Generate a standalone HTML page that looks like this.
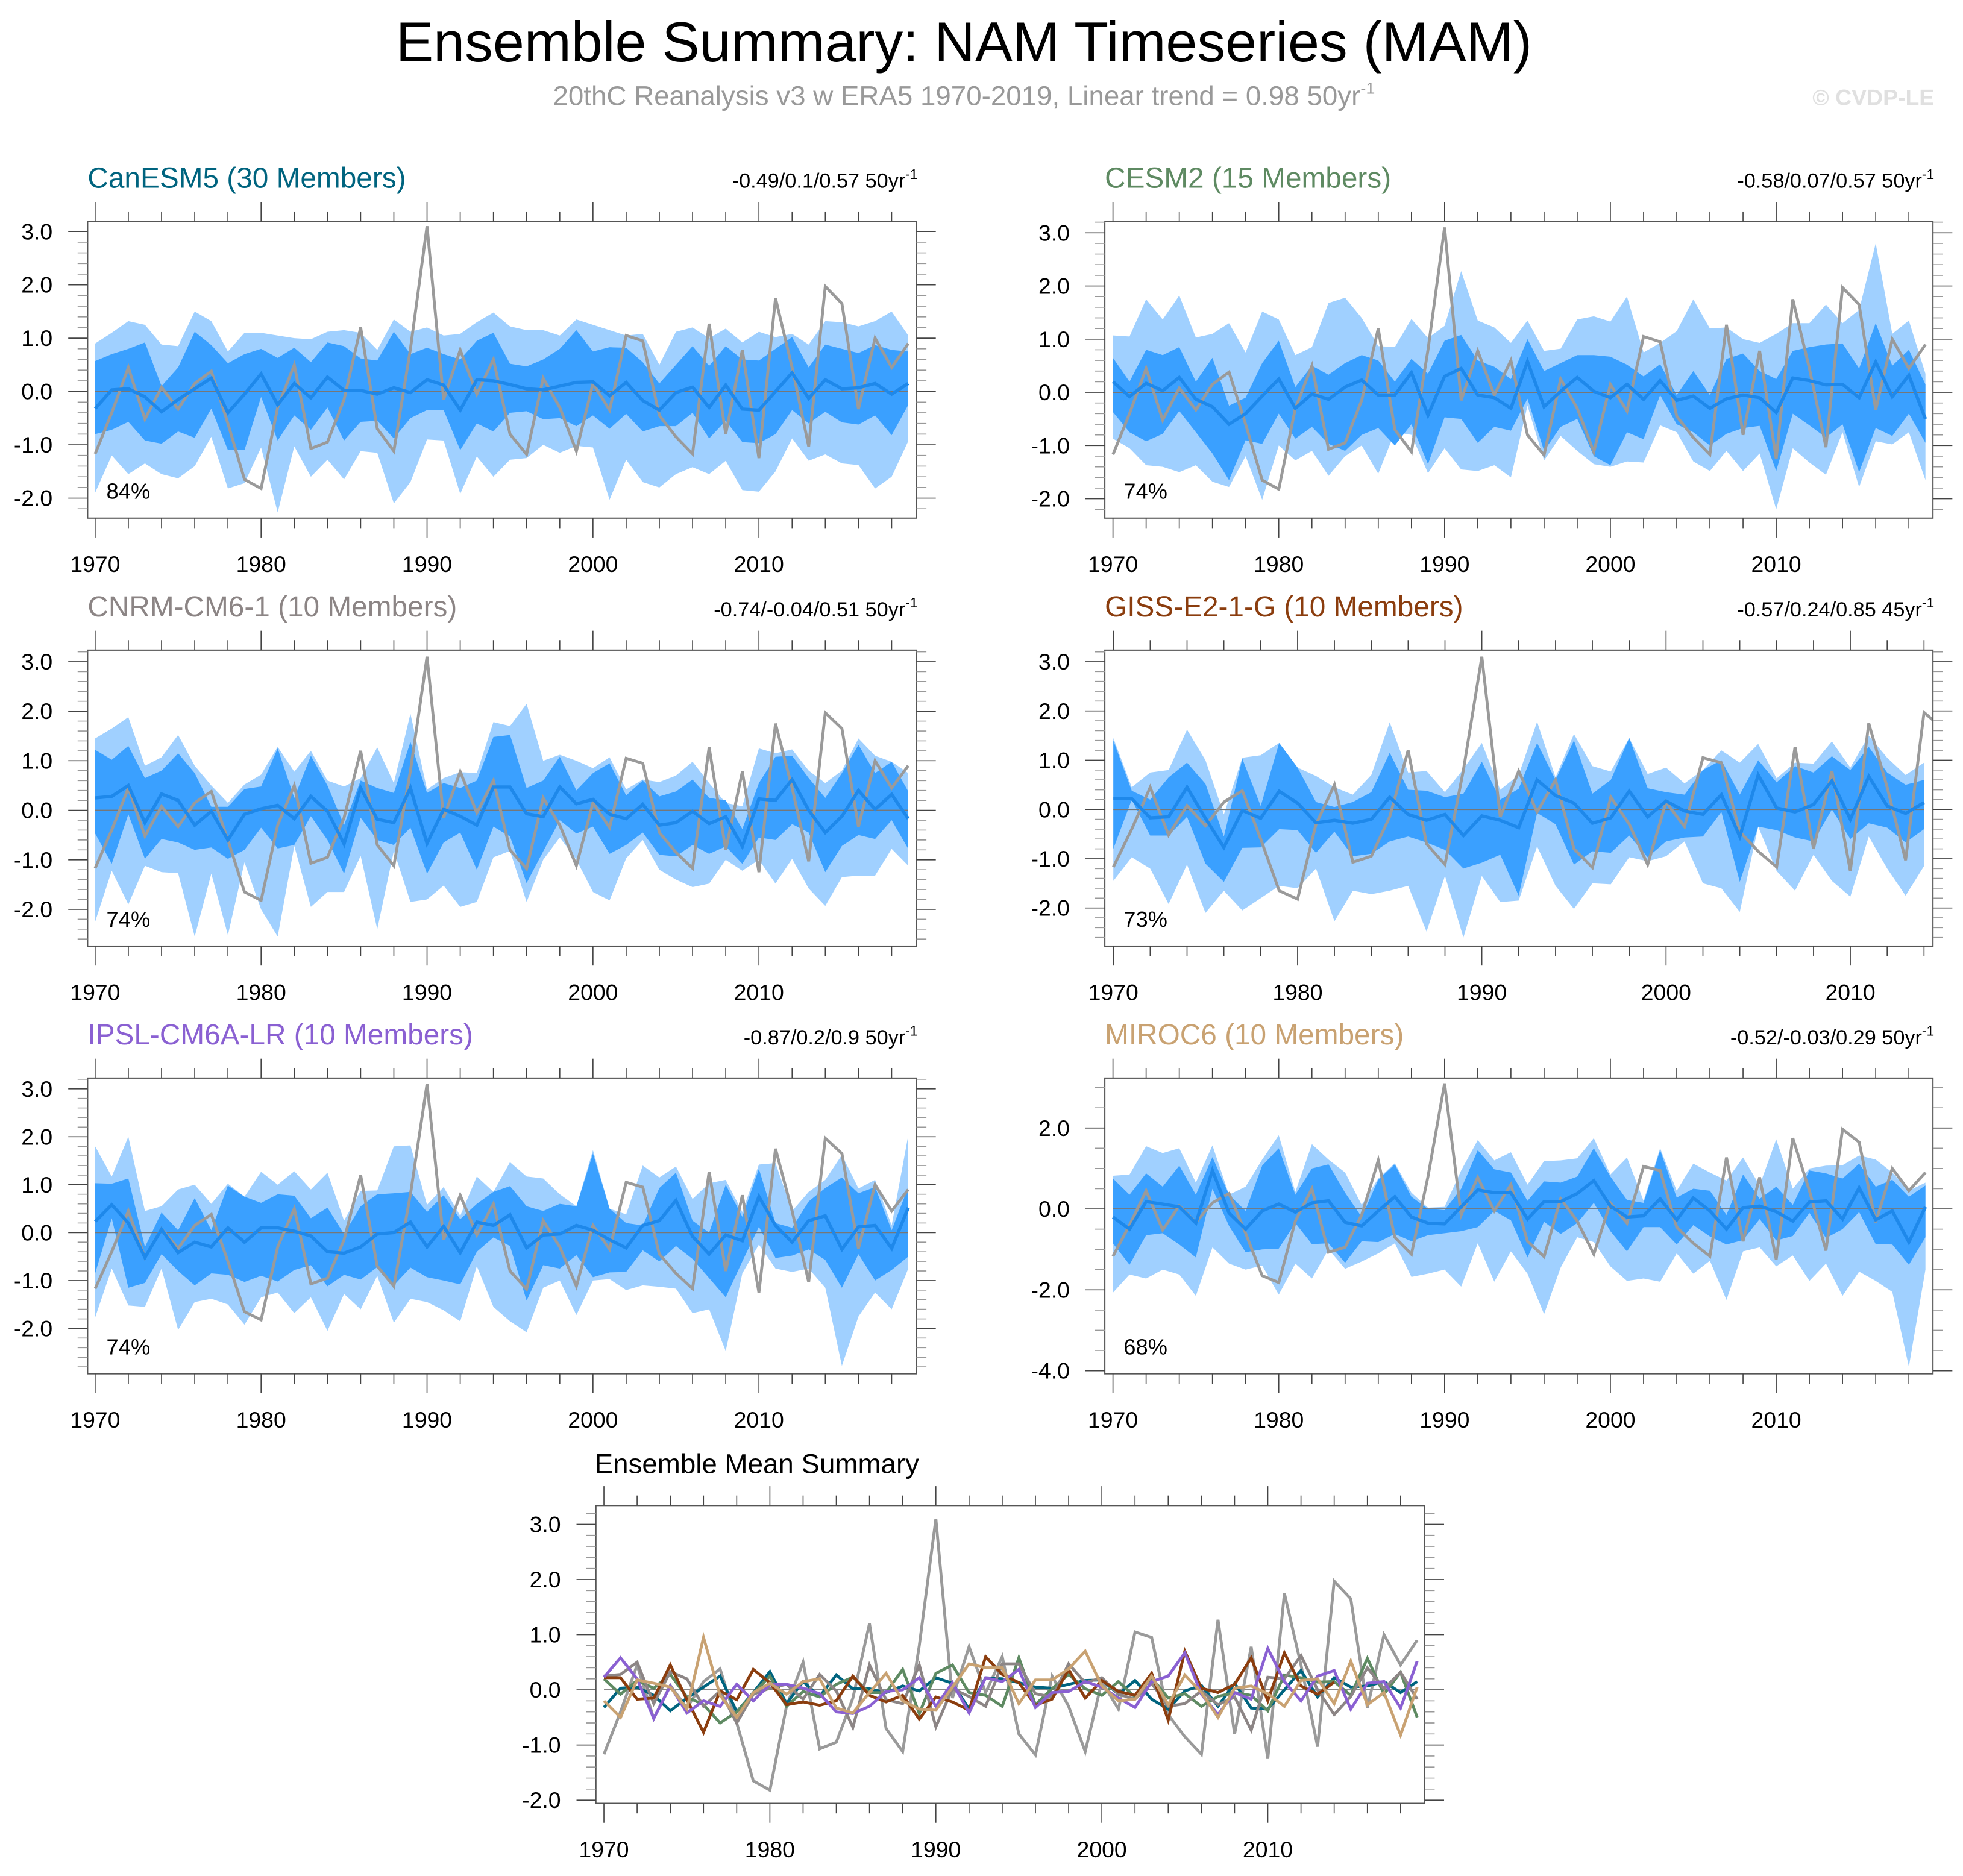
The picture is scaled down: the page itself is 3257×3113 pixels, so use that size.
<!DOCTYPE html>
<html><head><meta charset="utf-8"><style>
html,body{margin:0;padding:0;background:#fff;}
svg{display:block;}
text{font-family:"Liberation Sans",Arial,sans-serif;}
</style></head><body>
<svg id="fig" xmlns="http://www.w3.org/2000/svg" width="3257" height="3113" viewBox="0 0 1568 1499" preserveAspectRatio="none">
<rect x="0" y="0" width="1568" height="1499" fill="#fff"/>
<text x="770" y="49" font-size="45" text-anchor="middle" fill="#000">Ensemble Summary: NAM Timeseries (MAM)</text>
<text x="770" y="84" font-size="22" text-anchor="middle" fill="#999">20thC Reanalysis v3 w ERA5 1970-2019, Linear trend = 0.98 50yr<tspan font-size="13" dy="-9">-1</tspan></text>
<text x="1545" y="84" font-size="18" font-weight="bold" text-anchor="end" fill="#e0e0e0">© CVDP-LE</text>
<g id="panels"></g>
</svg>
<script>
const years = [];
for (let y = 1970; y <= 2019; y++) years.push(y);
const gissYears = years.slice(0, 45);
const xTickLabels = ["1970","1980","1990","2000","2010"];

const obs = [-1.17,-0.4,0.45,-0.52,0.08,-0.33,0.15,0.38,-0.6,-1.65,-1.82,-0.3,0.5,-1.07,-0.95,-0.15,1.2,-0.7,-1.12,0.8,3.1,-0.15,0.78,-0.05,0.6,-0.8,-1.18,0.25,-0.3,-1.12,0.15,-0.35,1.05,0.95,-0.45,-0.85,-1.17,1.27,-0.8,0.78,-1.25,1.75,0.45,-1.03,1.97,1.65,-0.33,1.0,0.45,0.9];

const canesm5_mean = [-0.32,0.03,0.05,-0.1,-0.38,-0.15,0.05,0.25,-0.4,-0.05,0.33,-0.25,0.15,-0.12,0.27,0.02,0.02,-0.05,0.07,-0.02,0.22,0.12,-0.35,0.22,0.2,0.13,0.05,0.03,0.1,0.17,0.18,-0.08,0.17,-0.17,-0.35,-0.02,0.08,-0.3,0.12,-0.33,-0.35,0.0,0.35,-0.13,0.22,0.05,0.07,0.15,-0.05,0.15];
const canesm5_p75 = [0.57,0.7,0.8,0.92,0.1,0.45,1.12,0.87,0.53,0.7,0.8,0.63,0.82,0.55,0.92,0.85,0.62,0.58,1.12,0.7,0.82,0.7,0.6,0.95,1.1,0.52,0.47,0.6,0.8,1.15,0.75,0.83,0.82,0.55,0.15,0.5,0.85,0.48,0.85,0.6,0.58,0.8,1.02,0.45,0.88,0.8,0.72,0.87,0.78,0.75];
const canesm5_p25 = [-0.8,-0.72,-0.57,-0.92,-0.98,-0.75,-0.87,-0.32,-1.1,-1.1,-0.1,-0.92,-0.45,-0.72,-0.3,-0.92,-0.57,-0.55,-0.88,-0.5,-0.35,-0.35,-1.1,-0.6,-0.75,-0.4,-0.37,-0.52,-0.5,-0.65,-0.45,-0.7,-0.42,-0.75,-0.65,-0.65,-0.4,-0.88,-0.55,-0.95,-0.97,-0.8,-0.35,-0.6,-0.38,-0.58,-0.62,-0.45,-0.82,-0.25];
const canesm5_max = [0.9,1.1,1.32,1.25,0.88,0.85,1.5,1.32,0.75,1.1,1.1,1.05,1.0,0.98,1.12,1.15,1.1,0.78,1.35,1.12,1.2,1.05,1.08,1.3,1.48,1.22,1.15,1.15,1.05,1.35,1.25,1.15,1.05,1.08,0.5,1.12,1.2,1.0,1.18,0.92,1.12,1.02,1.08,0.88,1.32,1.3,1.22,1.32,1.5,1.05];
const canesm5_min = [-1.9,-1.2,-1.55,-1.35,-1.55,-1.63,-1.4,-0.85,-1.82,-1.72,-1.05,-2.27,-1.03,-1.6,-1.28,-1.65,-1.12,-1.15,-2.1,-1.7,-0.9,-0.92,-1.92,-1.22,-1.6,-1.28,-1.25,-1.0,-1.15,-1.02,-1.05,-2.03,-1.28,-1.7,-1.8,-1.55,-1.42,-1.55,-1.3,-1.85,-1.88,-1.5,-0.88,-1.3,-1.18,-1.35,-1.38,-1.82,-1.6,-0.93];

const cesm2_mean = [0.2,-0.08,0.17,0.03,0.28,-0.13,-0.27,-0.6,-0.4,-0.07,0.25,-0.3,-0.03,-0.13,0.1,0.23,-0.05,-0.05,0.37,-0.43,0.3,0.45,-0.05,-0.1,-0.3,0.58,-0.27,0.02,0.28,0.02,-0.1,0.15,-0.13,0.22,-0.15,-0.07,-0.3,-0.12,-0.05,-0.1,-0.38,0.27,0.22,0.14,0.15,-0.1,0.57,-0.08,0.32,-0.5];
const cesm2_p75 = [0.65,0.2,0.8,0.7,0.85,0.2,0.65,-0.25,-0.1,0.55,0.97,0.1,0.5,0.33,0.55,0.7,0.6,0.2,0.63,0.35,0.97,1.08,0.6,0.48,0.25,1.0,0.4,0.55,0.7,0.7,0.67,0.52,0.3,0.53,-0.05,0.4,-0.05,0.63,0.73,0.4,0.25,0.78,0.85,0.9,0.92,0.45,1.3,0.5,0.8,0.15];
const cesm2_p25 = [-0.37,-0.75,-0.92,-0.78,-0.35,-0.75,-1.15,-1.65,-0.9,-0.97,-0.4,-0.87,-0.65,-0.97,-1.1,-0.8,-0.67,-1.0,-0.6,-1.35,-0.47,-0.5,-0.95,-0.65,-0.72,-0.12,-1.1,-0.65,-0.5,-1.2,-1.37,-0.75,-0.88,-0.05,-0.6,-0.75,-1.0,-0.78,-0.67,-0.63,-1.48,-0.4,-0.62,-0.85,-0.6,-1.5,-0.67,-0.82,-0.4,-0.95];
const cesm2_max = [1.07,1.05,1.75,1.37,1.82,1.03,1.1,1.3,0.75,1.52,1.37,0.7,0.85,1.68,1.78,1.4,0.87,0.85,1.38,1.02,1.25,2.28,1.35,1.22,0.93,1.35,0.78,0.82,1.37,1.43,1.33,1.8,0.75,0.93,1.15,1.75,1.2,1.22,1.0,0.93,1.1,1.3,1.3,1.65,1.3,1.55,2.8,1.1,1.35,0.35];
const cesm2_min = [-0.87,-1.05,-1.37,-1.4,-1.5,-1.37,-1.68,-1.78,-1.2,-2.02,-1.0,-1.28,-1.1,-1.57,-1.2,-1.0,-1.53,-0.75,-0.8,-1.52,-1.05,-1.45,-1.48,-1.37,-1.6,-0.25,-1.28,-0.82,-1.1,-1.35,-1.4,-1.3,-1.32,-0.62,-0.75,-1.3,-1.48,-1.1,-1.48,-1.15,-2.2,-1.05,-1.32,-1.55,-0.75,-1.78,-0.92,-0.98,-0.75,-1.65];

const cnrm_mean = [0.25,0.28,0.5,-0.25,0.33,0.2,-0.3,-0.02,-0.6,-0.08,0.03,0.1,-0.17,0.28,-0.02,-0.68,0.45,-0.18,-0.25,0.45,-0.67,0.02,-0.12,-0.3,0.47,0.47,-0.07,-0.13,0.47,0.13,0.22,-0.08,-0.17,0.12,-0.3,-0.25,-0.02,-0.27,-0.13,-0.73,0.23,0.2,0.62,0.0,-0.45,-0.12,0.4,0.02,0.32,-0.17];
const cnrm_p75 = [1.22,1.02,1.3,0.65,0.8,1.15,0.75,0.07,0.07,0.43,0.48,1.25,0.25,1.1,0.5,-0.3,0.6,0.45,0.35,1.38,0.35,0.55,0.45,0.6,1.48,1.52,0.45,0.6,1.08,0.4,0.75,0.95,0.3,0.6,0.28,0.38,0.62,0.25,0.2,-0.38,0.55,1.08,1.1,0.65,0.25,0.75,1.32,0.75,0.98,0.38];
const cnrm_p25 = [-0.47,-1.08,-0.08,-0.98,-0.58,-0.65,-0.8,-0.75,-0.98,-0.8,-0.35,-0.77,-0.7,-0.12,-0.6,-1.28,-0.15,-0.6,-0.7,-0.35,-1.28,-0.65,-0.45,-1.2,-0.33,-0.53,-1.47,-0.83,-0.2,-0.47,-0.33,-0.88,-0.7,-0.45,-0.9,-0.93,-0.7,-0.88,-0.73,-1.08,-0.55,-0.6,-0.28,-0.45,-1.25,-0.72,-0.5,-0.58,-0.2,-0.78];
const cnrm_max = [1.45,1.65,1.88,0.9,1.07,1.52,0.9,0.5,0.15,0.52,0.72,1.28,0.78,1.2,0.6,0.48,0.65,1.27,0.55,1.95,0.42,0.65,0.77,0.75,1.78,1.7,2.15,1.0,1.12,1.0,0.85,1.07,0.42,0.62,0.57,0.7,0.98,0.55,0.15,0.08,1.25,1.15,1.23,0.8,0.55,0.8,1.45,1.1,0.98,0.75];
const cnrm_min = [-2.25,-1.22,-1.9,-1.12,-1.25,-1.27,-2.55,-1.28,-2.52,-1.05,-2.0,-2.55,-0.72,-1.95,-1.65,-1.65,-0.92,-2.4,-0.82,-1.85,-1.8,-1.52,-1.95,-1.85,-0.95,-0.82,-1.85,-1.0,-0.55,-1.0,-1.65,-1.82,-0.97,-0.6,-1.2,-1.4,-1.55,-1.48,-1.0,-1.22,-1.0,-1.48,-0.98,-1.58,-1.93,-1.35,-1.32,-1.32,-0.78,-1.12];

const giss_mean = [0.22,0.22,-0.17,-0.15,0.45,-0.18,-0.77,-0.02,-0.18,0.37,0.13,-0.27,-0.22,-0.28,-0.2,0.25,-0.1,-0.22,-0.1,-0.53,-0.13,-0.22,-0.37,0.6,0.28,0.13,-0.28,-0.17,0.37,-0.15,0.17,-0.03,-0.1,0.3,-0.55,0.7,0.03,-0.05,0.1,0.58,-0.2,0.67,0.07,-0.08,0.14];
const giss_p75 = [1.4,0.38,0.2,0.65,0.95,0.52,-0.55,1.03,0.07,1.35,0.85,0.15,0.05,0.15,0.35,1.15,0.4,0.38,0.25,0.32,0.97,0.2,0.42,1.35,0.6,1.4,0.32,0.6,1.45,0.43,0.35,0.3,0.8,1.0,0.3,1.0,0.55,0.88,0.75,1.08,0.8,1.27,0.75,0.5,0.6];
const giss_p25 = [-0.8,0.2,-0.53,-0.53,-0.15,-1.1,-1.47,-0.78,-0.77,-0.4,-0.42,-0.88,-0.45,-0.95,-0.9,-0.65,-0.55,-0.67,-0.82,-1.2,-1.08,-0.92,-1.75,-0.07,-0.3,-1.12,-0.85,-0.88,-0.53,-0.97,-0.65,-0.57,-0.55,-0.05,-1.47,-0.35,-0.42,-0.57,-0.65,0.0,-0.6,-0.28,-0.37,-0.67,-0.4];
const giss_max = [1.45,0.45,0.75,0.8,1.62,1.0,-0.1,1.05,1.1,1.35,0.85,0.68,0.45,0.3,0.7,1.77,0.75,0.78,0.35,0.82,1.35,0.4,0.7,1.78,0.65,1.53,0.88,0.77,1.45,0.72,0.85,0.53,0.8,1.2,0.95,1.33,0.63,0.95,0.93,1.38,0.85,1.5,1.05,0.7,0.95];
const giss_min = [-1.45,-0.97,-1.2,-1.92,-1.12,-2.1,-1.65,-2.05,-1.8,-1.55,-1.6,-1.2,-2.27,-1.65,-1.72,-1.65,-1.55,-2.48,-1.35,-2.6,-1.35,-1.88,-1.85,-0.75,-1.55,-2.02,-1.5,-1.52,-0.97,-1.05,-0.95,-0.65,-1.5,-1.6,-2.08,-0.35,-1.25,-1.65,-0.92,-1.45,-1.77,-0.55,-1.2,-1.75,-1.15];

const ipsl_mean = [0.23,0.58,0.2,-0.52,0.07,-0.42,-0.2,-0.3,0.1,-0.2,0.1,0.1,0.03,-0.07,-0.4,-0.43,-0.3,-0.03,0.0,0.22,-0.3,0.13,-0.42,0.22,0.15,0.37,-0.32,-0.05,-0.03,0.15,0.05,-0.15,-0.32,0.15,0.25,0.67,-0.08,-0.45,-0.05,-0.17,0.75,0.15,-0.2,0.25,0.35,-0.35,0.12,0.15,-0.33,0.52];
const ipsl_p75 = [1.03,1.02,1.13,-0.3,0.42,0.05,0.72,0.05,0.98,0.75,0.62,0.8,0.77,0.3,0.52,-0.03,0.55,0.8,0.82,0.85,0.43,0.78,0.28,0.6,0.85,0.97,0.55,0.45,0.6,0.55,1.65,0.5,0.2,0.15,0.93,1.25,0.25,0.0,1.0,0.33,1.33,0.2,0.1,0.65,0.93,1.15,0.82,0.95,0.05,0.95];
const ipsl_p25 = [-0.85,0.3,-1.15,-1.05,-0.45,-0.8,-1.1,-0.85,-0.88,-1.03,-0.9,-1.02,-0.78,-0.68,-1.12,-0.88,-0.98,-0.72,-1.1,-0.73,-0.93,-1.0,-1.08,-0.4,-0.1,-0.28,-1.42,-0.68,-0.75,-0.47,-0.93,-0.83,-0.82,-0.37,-0.6,-0.28,-0.55,-0.95,-1.35,-0.6,0.12,-0.53,-0.48,-0.35,-0.57,-1.15,-0.45,-1.0,-0.78,-0.5];
const ipsl_max = [1.8,1.17,2.0,0.45,0.55,0.9,1.0,0.6,1.02,0.75,1.27,1.0,1.28,0.9,1.25,0.25,0.87,0.88,1.8,1.82,0.58,0.95,0.35,1.17,0.85,1.47,1.17,1.13,0.8,0.55,1.72,0.5,0.38,1.4,1.15,1.38,0.7,1.03,1.1,0.43,1.42,1.45,0.45,0.85,1.1,1.62,0.92,1.1,0.15,2.03];
const ipsl_min = [-1.77,-0.75,-1.52,-1.55,-0.75,-2.03,-1.45,-1.38,-1.5,-1.92,-1.35,-1.25,-1.68,-1.35,-2.05,-1.28,-1.6,-0.9,-1.88,-1.38,-1.45,-1.62,-1.85,-0.7,-1.55,-1.85,-2.08,-1.15,-1.0,-1.72,-1.0,-0.97,-1.2,-1.1,-1.13,-1.17,-1.68,-1.6,-2.47,-0.85,-0.25,-0.75,-0.82,-0.75,-1.15,-2.78,-1.75,-1.25,-1.6,-0.75];

const miroc6_mean = [-0.2,-0.5,0.18,0.12,0.05,-0.35,0.95,-0.1,-0.5,-0.05,0.12,-0.08,0.15,0.2,-0.33,-0.42,-0.05,0.3,-0.2,-0.35,-0.37,0.05,0.47,0.4,0.4,-0.25,0.18,0.18,0.38,0.7,0.07,-0.2,-0.17,0.25,-0.27,0.27,-0.05,-0.5,0.03,0.07,-0.07,-0.3,0.17,0.2,-0.25,0.52,-0.27,-0.05,-0.82,0.05];
const miroc6_p75 = [0.75,0.35,0.88,0.55,1.07,0.35,1.28,0.35,-0.05,1.07,1.5,0.35,1.0,1.1,0.4,-0.2,0.72,1.1,0.3,0.0,-0.03,0.5,1.45,0.98,0.9,0.2,0.68,0.65,0.8,1.5,0.8,0.22,0.15,1.45,0.28,0.5,0.45,-0.15,0.85,0.25,0.55,0.1,0.95,0.88,0.75,1.12,0.55,0.72,0.3,0.58];
const miroc6_p25 = [-0.85,-1.38,-0.65,-0.6,-0.88,-1.2,0.5,-0.42,-1.07,-1.0,-0.98,-0.35,-0.87,-0.85,-1.33,-0.8,-0.82,-0.62,-0.8,-0.65,-0.6,-0.55,-0.45,-0.05,-0.28,-1.2,-0.32,-0.62,-0.35,0.15,-0.55,-1.05,-0.45,-0.45,-0.88,-0.4,-0.68,-0.88,-0.77,-0.25,-0.78,-0.67,-0.1,-0.72,-0.5,-0.08,-0.87,-0.88,-1.38,-0.7];
const miroc6_max = [0.82,0.85,1.55,1.38,1.5,0.65,1.57,0.35,0.55,1.22,1.82,0.42,1.6,1.22,0.9,0.1,0.75,1.13,0.4,0.03,0.05,0.95,1.7,1.2,1.4,0.6,1.18,1.2,1.25,1.75,0.85,1.27,0.2,1.5,0.45,1.12,0.9,0.7,1.27,0.58,1.72,0.5,1.0,1.07,1.08,1.32,1.22,0.9,0.45,0.65];
const miroc6_min = [-2.07,-1.62,-1.72,-1.5,-1.62,-2.15,-0.95,-1.35,-1.5,-1.4,-2.12,-1.35,-1.72,-1.0,-1.48,-1.3,-1.1,-0.85,-1.68,-1.6,-1.5,-1.92,-0.85,-1.8,-1.05,-1.6,-2.6,-1.45,-0.7,-0.82,-1.42,-1.78,-1.72,-1.8,-1.1,-1.6,-1.28,-2.25,-1.05,-0.95,-1.42,-1.15,-1.78,-1.35,-2.15,-1.55,-1.78,-2.05,-3.9,-1.5];

const NS = "http://www.w3.org/2000/svg";
const root = document.getElementById("panels");
function mk(tag, attrs, parent) {
  const e = document.createElementNS(NS, tag);
  for (const k in attrs) e.setAttribute(k, attrs[k]);
  (parent || root).appendChild(e);
  return e;
}

const panels = [
  {key:"canesm5", title:"CanESM5 (30 Members)", color:"#00647f", stats:"-0.49/0.1/0.57 50yr", pct:"84%", yrs:years,
   mean:canesm5_mean, p25:canesm5_p25, p75:canesm5_p75, mn:canesm5_min, mx:canesm5_max,
   bx0:70, bx1:732, by0:177, by1:414, xa:76, ya:1970, xb:725.5, yb:2019, v0:3, py0:185, v1:-2, py1:398, minor:0.2, major:1},
  {key:"cesm2", title:"CESM2 (15 Members)", color:"#5e8a62", stats:"-0.58/0.07/0.57 50yr", pct:"74%", yrs:years,
   mean:cesm2_mean, p25:cesm2_p25, p75:cesm2_p75, mn:cesm2_min, mx:cesm2_max,
   bx0:882.5, bx1:1544, by0:177, by1:414, xa:889, ya:1970, xb:1538, yb:2019, v0:3, py0:186, v1:-2, py1:398.5, minor:0.2, major:1},
  {key:"cnrm", title:"CNRM-CM6-1 (10 Members)", color:"#8c8585", stats:"-0.74/-0.04/0.51 50yr", pct:"74%", yrs:years,
   mean:cnrm_mean, p25:cnrm_p25, p75:cnrm_p75, mn:cnrm_min, mx:cnrm_max,
   bx0:70, bx1:732, by0:519.5, by1:756, xa:76, ya:1970, xb:725.5, yb:2019, v0:3, py0:528.7, v1:-2, py1:726.6, minor:0.2, major:1},
  {key:"giss", title:"GISS-E2-1-G (10 Members)", color:"#8b3d0e", stats:"-0.57/0.24/0.85 45yr", pct:"73%", yrs:gissYears,
   mean:giss_mean, p25:giss_p25, p75:giss_p75, mn:giss_min, mx:giss_max,
   bx0:882.5, bx1:1544, by0:519.5, by1:756, xa:889.3, ya:1970, xb:1478, yb:2010, v0:3, py0:528.7, v1:-2, py1:725.5, minor:0.2, major:1},
  {key:"ipsl", title:"IPSL-CM6A-LR (10 Members)", color:"#8a60d2", stats:"-0.87/0.2/0.9 50yr", pct:"74%", yrs:years,
   mean:ipsl_mean, p25:ipsl_p25, p75:ipsl_p75, mn:ipsl_min, mx:ipsl_max,
   bx0:70, bx1:732, by0:861.4, by1:1097.7, xa:76, ya:1970, xb:725.5, yb:2019, v0:3, py0:870, v1:-2, py1:1061.5, minor:0.2, major:1},
  {key:"miroc6", title:"MIROC6 (10 Members)", color:"#c9a272", stats:"-0.52/-0.03/0.29 50yr", pct:"68%", yrs:years,
   mean:miroc6_mean, p25:miroc6_p25, p75:miroc6_p75, mn:miroc6_min, mx:miroc6_max,
   bx0:882.5, bx1:1544, by0:861.4, by1:1097.7, xa:889, ya:1970, xb:1538, yb:2019, v0:2, py0:901.3, v1:-4, py1:1095.3, minor:0.5, major:2}
];

function axes(p) {
  const xs = yr => p.xa + (yr - p.ya) * (p.xb - p.xa) / (p.yb - p.ya);
  const ys = v => p.py0 + (v - p.v0) * (p.py1 - p.py0) / (p.v1 - p.v0);
  return {xs, ys};
}

function drawFrame(p, g, xs, ys, lastYear) {
  const tc = "#444";
  for (let yr = 1970; yr <= lastYear; yr += 2) {
    const x = xs(yr);
    const major = (yr % 10 === 0);
    const L = major ? 15.5 : 8;
    const t1 = mk("line", {x1:x, x2:x, y1:p.by1, y2:p.by1 + L, stroke:tc, "stroke-width":0.8}, g);
    
    
    const t2 = mk("line", {x1:x, x2:x, y1:p.by0, y2:p.by0 - L, stroke:tc, "stroke-width":0.8}, g);
    
    
  }
  xTickLabels.forEach(lb => {
    const yr = parseInt(lb, 10);
    if (yr > lastYear) return;
    const t = mk("text", {x:xs(yr), y:p.by1 + 43, "font-size":18, "text-anchor":"middle", fill:"#000"}, g);
    
    
    t.textContent = lb;
  });
  const vTop = p.v0 + (p.by0 - p.py0) * (p.v1 - p.v0) / (p.py1 - p.py0);
  const vBot = p.v0 + (p.by1 - p.py0) * (p.v1 - p.v0) / (p.py1 - p.py0);
  const nStart = Math.ceil(vBot / p.minor - 1e-6), nEnd = Math.floor(vTop / p.minor + 1e-6);
  for (let n = nStart; n <= nEnd; n++) {
    const v = n * p.minor;
    const y = ys(v);
    const major = Math.abs(v / p.major - Math.round(v / p.major)) < 1e-6;
    const L = major ? 15.5 : 8;
    const a = mk("line", {x1:p.bx0 - L, x2:p.bx0, y1:y, y2:y, stroke:major ? tc : "#999", "stroke-width":0.8}, g);
    
    
    const b = mk("line", {x1:p.bx1, x2:p.bx1 + L, y1:y, y2:y, stroke:major ? tc : "#999", "stroke-width":0.8}, g);
    
    
    if (major) {
      const t = mk("text", {x:p.bx0 - 28, y:y + 6.3, "font-size":18, "text-anchor":"end", fill:"#000"}, g);
      
      
      t.textContent = v.toFixed(1);
    }
  }
}

function linePath(xsArr, vals, xs, ys) {
  return vals.map((v, i) => (i ? "L" : "M") + xs(xsArr[i]).toFixed(2) + "," + ys(v).toFixed(2)).join(" ");
}
function bandPath(xsArr, lo, hi, xs, ys) {
  let d = hi.map((v, i) => (i ? "L" : "M") + xs(xsArr[i]).toFixed(2) + "," + ys(v).toFixed(2)).join(" ");
  for (let i = lo.length - 1; i >= 0; i--) d += " L" + xs(xsArr[i]).toFixed(2) + "," + ys(lo[i]).toFixed(2);
  return d + " Z";
}

panels.forEach((p, idx) => {
  const g = mk("g", {});
  
  
  const {xs, ys} = axes(p);
  const lastYear = p.yrs[p.yrs.length - 1];
  const clipId = "clip" + idx;
  const cp = mk("clipPath", {id:clipId}, g);
  mk("rect", {x:p.bx0, y:p.by0, width:p.bx1 - p.bx0, height:p.by1 - p.by0}, cp);
  const plot = mk("g", {"clip-path":"url(#" + clipId + ")"}, g);
  
  
  const b1 = mk("path", {d:bandPath(p.yrs, p.mn, p.mx, xs, ys), fill:"#a0d0ff"}, plot);
  
  
  const b2 = mk("path", {d:bandPath(p.yrs, p.p25, p.p75, xs, ys), fill:"#3aa0ff"}, plot);
  
  
  const z = mk("line", {x1:xs(1970), x2:xs(lastYear), y1:ys(0), y2:ys(0), stroke:"#777", "stroke-width":0.9}, plot);
  
  
  const ob = mk("path", {d:linePath(years, obs, xs, ys), fill:"none", stroke:"#9a9a9a", "stroke-width":2.3}, plot);
  
  
  const mn = mk("path", {d:linePath(p.yrs, p.mean, xs, ys), fill:"none", stroke:"#1e88ea", "stroke-width":2.6}, plot);
  
  
  const box = mk("rect", {x:p.bx0, y:p.by0, width:p.bx1 - p.bx0, height:p.by1 - p.by0, fill:"none", stroke:"#555", "stroke-width":1}, g);
  
  
  drawFrame(p, g, xs, ys, lastYear);
  const t = mk("text", {x:p.bx0, y:p.by0 - 27, "font-size":23, fill:p.color}, g);
  
  
  t.textContent = p.title;
  const s = mk("text", {x:p.bx1 + 1, y:p.by0 - 27, "font-size":16.5, "text-anchor":"end", fill:"#000"}, g);
  
  
  s.textContent = p.stats;
  const sup = mk("tspan", {"font-size":11, dy:-7}, s);
  sup.textContent = "-1";
  const pc = mk("text", {x:p.bx0 + 15, y:p.by1 - 15.5, "font-size":17.5, fill:"#000"}, g);
  
  
  pc.textContent = p.pct;
});

const sp = {bx0:476, bx1:1138, by0:1203, by1:1441, xa:482.4, ya:1970, xb:1132, yb:2019, v0:3, py0:1218, v1:-2, py1:1438.4, minor:0.2, major:1};
(function () {
  const g = mk("g", {});
  
  
  const xs = yr => sp.xa + (yr - sp.ya) * (sp.xb - sp.xa) / (sp.yb - sp.ya);
  const ys = v => sp.py0 + (v - sp.v0) * (sp.py1 - sp.py0) / (sp.v1 - sp.v0);
  const cp = mk("clipPath", {id:"clipS"}, g);
  mk("rect", {x:sp.bx0, y:sp.by0, width:sp.bx1 - sp.bx0, height:sp.by1 - sp.by0}, cp);
  const plot = mk("g", {"clip-path":"url(#clipS)"}, g);
  const z = mk("line", {x1:xs(1970), x2:xs(2019), y1:ys(0), y2:ys(0), stroke:"#777", "stroke-width":0.9}, plot);
  
  
  const ob = mk("path", {d:linePath(years, obs, xs, ys), fill:"none", stroke:"#9a9a9a", "stroke-width":2.3}, plot);
  
  
  panels.forEach(p => {
    const l = mk("path", {d:linePath(p.yrs, p.mean, xs, ys), fill:"none", stroke:p.color, "stroke-width":2.3}, plot);
    
    
  });
  const box = mk("rect", {x:sp.bx0, y:sp.by0, width:sp.bx1 - sp.bx0, height:sp.by1 - sp.by0, fill:"none", stroke:"#555", "stroke-width":1}, g);
  
  
  drawFrame(sp, g, xs, ys, 2019);
  const t = mk("text", {x:475, y:1177, "font-size":22, fill:"#000"}, g);
  
  
  t.textContent = "Ensemble Mean Summary";
})();
</script>
</body></html>
